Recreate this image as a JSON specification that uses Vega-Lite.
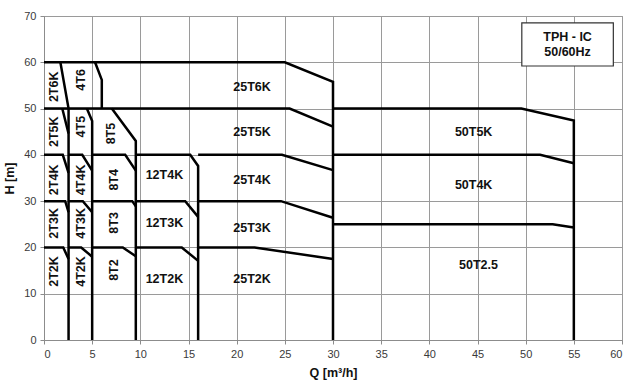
{
  "$schema": "https://vega.github.io/schema/vega-lite/v6.json",
  "autosize": {"type": "none"},
  "width": 578,
  "height": 324,
  "padding": {"left": 44, "top": 16, "right": 18, "bottom": 45},
  "background": "white",
  "config": {
    "view": {"stroke": "#8c8c8c", "strokeWidth": 1},
    "font": "Liberation Sans",
    "axis": {
      "gridColor": "#9a9a9a",
      "gridOpacity": 1,
      "gridWidth": 1,
      "domainColor": "#8c8c8c",
      "tickColor": "#8c8c8c",
      "tickSize": 4,
      "labelFont": "Liberation Sans",
      "labelFontSize": 11,
      "labelColor": "#3a3a3a",
      "titleFont": "Liberation Sans",
      "titleFontSize": 12.5,
      "titleFontWeight": "bold",
      "titleColor": "#111111"
    }
  },
  "datasets": {
    "lines": [
      {"id": "top60", "o": 1, "q": 0, "h": 60}, {"id": "top60", "o": 2, "q": 25, "h": 60}, {"id": "top60", "o": 3, "q": 30, "h": 55.8}, {"id": "top60", "o": 4, "q": 30, "h": 0},
      {"id": "l50", "o": 1, "q": 0, "h": 50}, {"id": "l50", "o": 2, "q": 25.5, "h": 50}, {"id": "l50", "o": 3, "q": 30, "h": 46.1},
      {"id": "2T", "o": 1, "q": 1.7, "h": 60}, {"id": "2T", "o": 2, "q": 2.55, "h": 50}, {"id": "2T", "o": 3, "q": 2.55, "h": 0},
      {"id": "2T5K", "o": 1, "q": 1.9, "h": 50}, {"id": "2T5K", "o": 2, "q": 2.55, "h": 44.6},
      {"id": "4T6", "o": 1, "q": 5.3, "h": 60}, {"id": "4T6", "o": 2, "q": 6.0, "h": 56.2}, {"id": "4T6", "o": 3, "q": 6.0, "h": 50},
      {"id": "4T5", "o": 1, "q": 4.45, "h": 50}, {"id": "4T5", "o": 2, "q": 5.0, "h": 47.3}, {"id": "4T5", "o": 3, "q": 5.0, "h": 0},
      {"id": "8T5", "o": 1, "q": 7.04, "h": 50}, {"id": "8T5", "o": 2, "q": 9.53, "h": 43.0}, {"id": "8T5", "o": 3, "q": 9.53, "h": 0},
      {"id": "2T4K", "o": 1, "q": 0, "h": 40}, {"id": "2T4K", "o": 2, "q": 1.95, "h": 40}, {"id": "2T4K", "o": 3, "q": 2.55, "h": 36.1},
      {"id": "4T4K", "o": 1, "q": 2.55, "h": 40}, {"id": "4T4K", "o": 2, "q": 3.97, "h": 40}, {"id": "4T4K", "o": 3, "q": 5.0, "h": 36.6},
      {"id": "8T4", "o": 1, "q": 5.0, "h": 40}, {"id": "8T4", "o": 2, "q": 8.43, "h": 40}, {"id": "8T4", "o": 3, "q": 9.53, "h": 36.6},
      {"id": "12T4K", "o": 1, "q": 9.64, "h": 40}, {"id": "12T4K", "o": 2, "q": 15.18, "h": 40}, {"id": "12T4K", "o": 3, "q": 16.0, "h": 37.6}, {"id": "12T4K", "o": 4, "q": 16.0, "h": 0},
      {"id": "25T4K", "o": 1, "q": 16.0, "h": 40}, {"id": "25T4K", "o": 2, "q": 24.7, "h": 40}, {"id": "25T4K", "o": 3, "q": 30, "h": 36.7},
      {"id": "2T3K", "o": 1, "q": 0, "h": 30}, {"id": "2T3K", "o": 2, "q": 2.2, "h": 30}, {"id": "2T3K", "o": 3, "q": 2.55, "h": 27.6},
      {"id": "4T3K", "o": 1, "q": 2.55, "h": 30}, {"id": "4T3K", "o": 2, "q": 4.03, "h": 30}, {"id": "4T3K", "o": 3, "q": 5.0, "h": 27.6},
      {"id": "8T3", "o": 1, "q": 5.0, "h": 30}, {"id": "8T3", "o": 2, "q": 9.16, "h": 30}, {"id": "8T3", "o": 3, "q": 9.53, "h": 28.9},
      {"id": "12T3K", "o": 1, "q": 9.64, "h": 30}, {"id": "12T3K", "o": 2, "q": 14.66, "h": 30}, {"id": "12T3K", "o": 3, "q": 16.0, "h": 26.6},
      {"id": "25T3K", "o": 1, "q": 16.0, "h": 30}, {"id": "25T3K", "o": 2, "q": 24.6, "h": 30}, {"id": "25T3K", "o": 3, "q": 30, "h": 26.4},
      {"id": "2T2K", "o": 1, "q": 0, "h": 20}, {"id": "2T2K", "o": 2, "q": 2.0, "h": 20}, {"id": "2T2K", "o": 3, "q": 2.55, "h": 17.5},
      {"id": "4T2K", "o": 1, "q": 2.55, "h": 20}, {"id": "4T2K", "o": 2, "q": 3.86, "h": 20}, {"id": "4T2K", "o": 3, "q": 5.0, "h": 18.0},
      {"id": "8T2", "o": 1, "q": 5.0, "h": 20}, {"id": "8T2", "o": 2, "q": 8.18, "h": 20}, {"id": "8T2", "o": 3, "q": 9.53, "h": 18.1},
      {"id": "12T2K", "o": 1, "q": 9.64, "h": 20}, {"id": "12T2K", "o": 2, "q": 14.3, "h": 20}, {"id": "12T2K", "o": 3, "q": 16.0, "h": 17.1},
      {"id": "25T2K", "o": 1, "q": 16.0, "h": 20}, {"id": "25T2K", "o": 2, "q": 21.86, "h": 20}, {"id": "25T2K", "o": 3, "q": 30, "h": 17.5},
      {"id": "50T5K", "o": 1, "q": 30, "h": 50}, {"id": "50T5K", "o": 2, "q": 49.55, "h": 50}, {"id": "50T5K", "o": 3, "q": 55, "h": 47.4}, {"id": "50T5K", "o": 4, "q": 55, "h": 0},
      {"id": "50T4K", "o": 1, "q": 30, "h": 40}, {"id": "50T4K", "o": 2, "q": 51.5, "h": 40}, {"id": "50T4K", "o": 3, "q": 55, "h": 38.2},
      {"id": "50T2.5", "o": 1, "q": 30, "h": 25}, {"id": "50T2.5", "o": 2, "q": 52.8, "h": 25}, {"id": "50T2.5", "o": 3, "q": 55, "h": 24.3}
    ],
    "vlabels": [
      {"t": "2T6K", "q": 1.0, "h": 54.7}, {"t": "4T6", "q": 3.8, "h": 56.2},
      {"t": "2T5K", "q": 1.0, "h": 45.0}, {"t": "4T5", "q": 3.8, "h": 46.1}, {"t": "8T5", "q": 7.0, "h": 44.6},
      {"t": "2T4K", "q": 1.0, "h": 34.6}, {"t": "4T4K", "q": 3.8, "h": 34.6}, {"t": "8T4", "q": 7.25, "h": 34.6},
      {"t": "2T3K", "q": 1.0, "h": 25.2}, {"t": "4T3K", "q": 3.8, "h": 25.2}, {"t": "8T3", "q": 7.25, "h": 25.3},
      {"t": "2T2K", "q": 1.0, "h": 14.8}, {"t": "4T2K", "q": 3.8, "h": 14.8}, {"t": "8T2", "q": 7.3, "h": 15.1}
    ],
    "hlabels": [
      {"t": "12T4K", "q": 12.5, "h": 35.6}, {"t": "12T3K", "q": 12.5, "h": 25.2}, {"t": "12T2K", "q": 12.5, "h": 13.2},
      {"t": "25T6K", "q": 21.6, "h": 54.6}, {"t": "25T5K", "q": 21.6, "h": 44.9}, {"t": "25T4K", "q": 21.6, "h": 34.6},
      {"t": "25T3K", "q": 21.6, "h": 24.3}, {"t": "25T2K", "q": 21.6, "h": 13.2},
      {"t": "50T5K", "q": 44.6, "h": 44.9}, {"t": "50T4K", "q": 44.6, "h": 33.5}, {"t": "50T2.5", "q": 45.1, "h": 16.3}
    ],
    "box": [{"q1": 49.6, "q2": 59.1, "h1": 59.2, "h2": 68.5}],
    "boxtext": [{"t": "TPH - IC", "q": 54.35, "h": 65.5}, {"t": "50/60Hz", "q": 54.35, "h": 62.2}]
  },
  "layer": [
    {
      "data": {"name": "box"},
      "mark": {"type": "rect", "fill": "white", "stroke": "#333333", "strokeWidth": 1.2},
      "encoding": {
        "x": {"field": "q1", "type": "quantitative", "scale": {"domain": [0, 60], "nice": false},
              "axis": {"values": [0, 5, 10, 15, 20, 25, 30, 35, 40, 45, 50, 55, 60], "title": "Q [m³/h]", "titlePadding": 7, "labelPadding": 4}},
        "x2": {"field": "q2"},
        "y": {"field": "h1", "type": "quantitative", "scale": {"domain": [0, 70], "nice": false},
              "axis": {"values": [0, 10, 20, 30, 40, 50, 60, 70], "title": "H [m]", "titlePadding": 7, "labelPadding": 4}},
        "y2": {"field": "h2"}
      }
    },
    {
      "data": {"name": "lines"},
      "mark": {"type": "line", "color": "black", "strokeWidth": 2.5, "strokeJoin": "miter", "strokeCap": "butt"},
      "encoding": {
        "x": {"field": "q", "type": "quantitative"},
        "y": {"field": "h", "type": "quantitative"},
        "detail": {"field": "id"},
        "order": {"field": "o", "type": "quantitative"}
      }
    },
    {
      "data": {"name": "vlabels"},
      "mark": {"type": "text", "angle": 270, "fontSize": 12.5, "fontWeight": "bold", "font": "Liberation Sans", "color": "#111111", "align": "center", "baseline": "middle"},
      "encoding": {
        "x": {"field": "q", "type": "quantitative"},
        "y": {"field": "h", "type": "quantitative"},
        "text": {"field": "t"}
      }
    },
    {
      "data": {"name": "hlabels"},
      "mark": {"type": "text", "fontSize": 12.5, "fontWeight": "bold", "font": "Liberation Sans", "color": "#111111", "align": "center", "baseline": "middle"},
      "encoding": {
        "x": {"field": "q", "type": "quantitative"},
        "y": {"field": "h", "type": "quantitative"},
        "text": {"field": "t"}
      }
    },
    {
      "data": {"name": "boxtext"},
      "mark": {"type": "text", "fontSize": 12.5, "fontWeight": "bold", "font": "Liberation Sans", "color": "#111111", "align": "center", "baseline": "middle"},
      "encoding": {
        "x": {"field": "q", "type": "quantitative"},
        "y": {"field": "h", "type": "quantitative"},
        "text": {"field": "t"}
      }
    }
  ]
}
